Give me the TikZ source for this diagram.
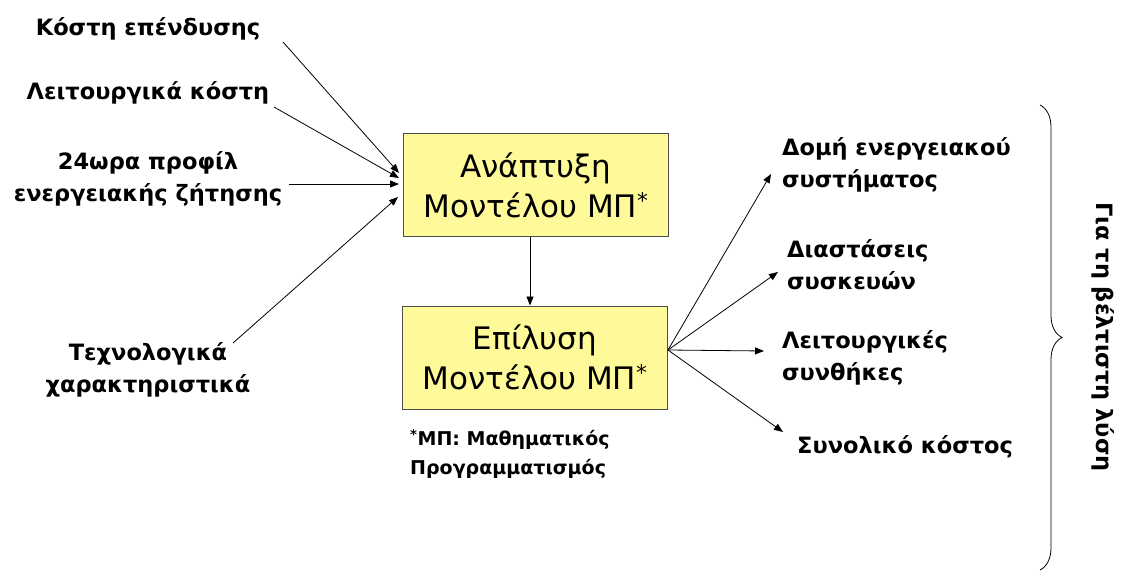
\documentclass[tikz,border=0pt]{standalone}
\usepackage{fontspec}
\setmainfont{DejaVu Sans}
\usetikzlibrary{arrows.meta,decorations.pathreplacing}
\begin{document}
\begin{tikzpicture}[x=1pt,y=-1pt,
  lbl/.style={font=\bfseries\fontsize{22.5}{32.5}\selectfont, inner sep=0pt, align=center},
  lbll/.style={lbl, align=left, anchor=north west},
  mbox/.style={draw=black!70, line width=1pt, fill=yellow!40!white, minimum width=265pt, minimum height=103pt, align=center, font=\fontsize{31}{40}\selectfont, inner sep=0pt},
  arr/.style={-{Triangle[length=9pt,width=7pt]}, line width=0.8pt}]
\useasboundingbox (0,0) rectangle (1130,572);
% boxes
\node[mbox] (b1) at (536,185.5) {Ανάπτυξη\\Μοντέλου ΜΠ\textsuperscript{*}};
\node[mbox] (b2) at (535,357.5) {Επίλυση\\Μοντέλου ΜΠ\textsuperscript{*}};
% inputs
\node[lbl] (i1) at (148,29) {Κόστη επένδυσης};
\node[lbl] (i2) at (148,93) {Λειτουργικά κόστη};
\node[lbl] (i3) at (148,179) {24ωρα προφίλ\\ενεργειακής ζήτησης};
\node[lbl] (i4) at (148,370) {Τεχνολογικά\\χαρακτηριστικά};
\coordinate (s1) at (283,42);
\coordinate (s2) at (274,107);
\coordinate (s3) at (289,184);
\coordinate (s4) at (233,343);
\coordinate (t1) at (399,173);
\coordinate (t2) at (399,178);
\coordinate (t3) at (399,184);
\coordinate (t4) at (398,197);
\draw[arr] (s1) -- (t1);
\draw[arr] (s2) -- (t2);
\draw[arr] (s3) -- (t3);
\draw[arr] (s4) -- (t4);
% between boxes
\draw[arr] (b1.south -| 530,0) -- (b2.north -| 530,0);
% outputs
\node[lbll] (o1) at (782,137) {Δομή ενεργειακού\\συστήματος};
\node[lbll] (o2) at (787,239) {Διαστάσεις\\συσκευών};
\node[lbll] (o3) at (782,330) {Λειτουργικές\\συνθήκες};
\node[lbl, anchor=north west] (o4) at (797,435) {Συνολικό κόστος};
\coordinate (e0) at (668,350);
\coordinate (e1) at (771,174);
\coordinate (e2) at (778,272);
\coordinate (e3) at (764,351);
\coordinate (e4) at (783,432);
\draw[arr] (e0) -- (e1);
\draw[arr] (e0) -- (e2);
\draw[arr] (e0) -- (e3);
\draw[arr] (e0) -- (e4);
% footnote
\node[lbll, font=\bfseries\fontsize{19}{29}\selectfont] (fn) at (410,429) {\textsuperscript{*}ΜΠ: Μαθηματικός\\Προγραμματισμός};
% brace
\coordinate (br1) at (1040,105);
\coordinate (br2) at (1040,570);
\draw[line width=0.8pt, decorate, decoration={brace, amplitude=22pt}] (br1) -- (br2);
\node[lbl, rotate=-90] (res) at (1103,337) {Για τη βέλτιστη λύση};
\end{tikzpicture}
\end{document}
